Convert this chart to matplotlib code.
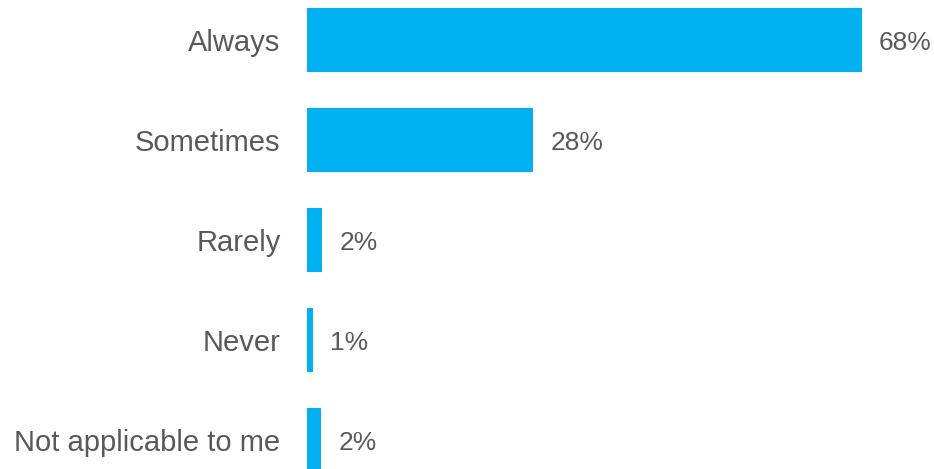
import matplotlib.pyplot as plt

categories = ["Always", "Sometimes", "Rarely", "Never", "Not applicable to me"]
values = [68, 27.7, 1.9, 0.7, 1.7]
value_labels = ["68%", "28%", "2%", "1%", "2%"]

bar_color = "#00B0F0"
text_color = "#595959"

plt.rcParams['font.family'] = ['Liberation Sans', 'DejaVu Sans']

fig = plt.figure(figsize=(9.34, 4.69), dpi=100)
# axes starts where the bars start (x=307px), runs to the right edge
ax = fig.add_axes([307 / 934, 0, 1 - 307 / 934, 1])

ypos = list(range(len(categories)))
ax.barh(ypos, values, height=0.64, color=bar_color)

ax.set_xlim(0, 627 / 8.157)
ax.set_ylim(4.29, -0.4)

for y, v, lab in zip(ypos, values, value_labels):
    ax.annotate(lab, (v, y), xytext=(12.5, 0), textcoords="offset points",
                va="center_baseline", ha="left", fontsize=19, color=text_color)

ax.set_yticks(ypos)
ax.set_yticklabels(categories, fontsize=21, color=text_color)
for t in ax.get_yticklabels():
    t.set_verticalalignment("center_baseline")
ax.tick_params(axis="y", length=0, pad=19)
ax.set_xticks([])
for s in ax.spines.values():
    s.set_visible(False)

fig.savefig("out.png", dpi=100)
